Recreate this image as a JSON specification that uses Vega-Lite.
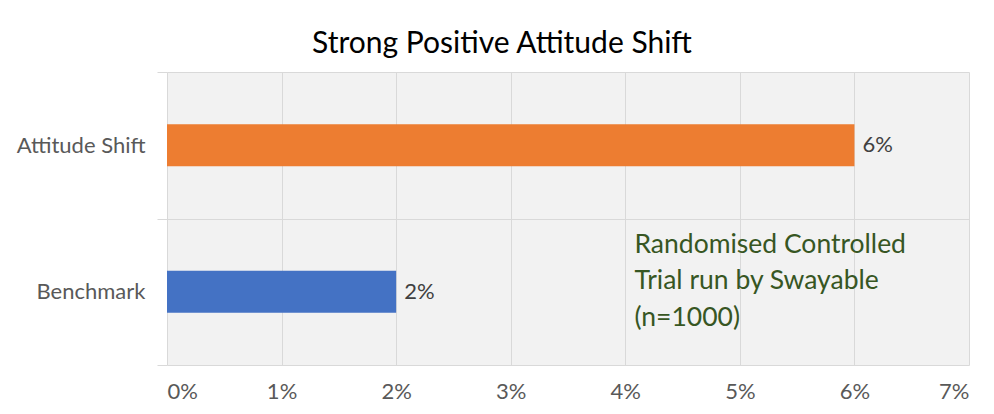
{
  "$schema": "https://vega.github.io/schema/vega-lite/v6.json",
  "autosize": {"type": "none"},
  "width": 802,
  "height": 293,
  "padding": {"left": 167, "top": 72, "right": 25, "bottom": 49},
  "background": "white",
  "title": {
    "text": "Strong Positive Attitude Shift",
    "font": "Lato",
    "fontSize": 30,
    "fontWeight": "normal",
    "color": "#000000",
    "anchor": "middle",
    "dx": -66,
    "offset": 2
  },
  "config": {
    "view": {"fill": "#f2f2f2", "stroke": null},
    "axis": {"labelFont": "Lato", "labelFontSize": 22, "labelColor": "#595959"}
  },
  "data": {
    "values": [
      {"category": "Attitude Shift", "value": 0.06, "label": "6%"},
      {"category": "Benchmark", "value": 0.02, "label": "2%"}
    ]
  },
  "encoding": {
    "y": {
      "field": "category",
      "type": "nominal",
      "sort": ["Attitude Shift", "Benchmark"],
      "title": null,
      "scale": {"paddingInner": 0, "paddingOuter": 0},
      "axis": {
        "tickBand": "extent",
        "grid": true,
        "gridColor": "#d9d9d9",
        "tickColor": "#d9d9d9",
        "tickSize": 10,
        "domain": false,
        "labelPadding": 12
      }
    },
    "x": {
      "field": "value",
      "type": "quantitative",
      "scale": {"domain": [0, 0.07], "nice": false},
      "title": null,
      "axis": {
        "values": [0, 0.01, 0.02, 0.03, 0.04, 0.05, 0.06, 0.07],
        "format": ".0%",
        "grid": true,
        "gridColor": "#d9d9d9",
        "ticks": false,
        "domain": false,
        "labelPadding": 16
      }
    }
  },
  "layer": [
    {
      "mark": {"type": "bar", "size": 42},
      "encoding": {
        "color": {
          "field": "category",
          "type": "nominal",
          "scale": {"domain": ["Attitude Shift", "Benchmark"], "range": ["#ED7D31", "#4472C4"]},
          "legend": null
        }
      }
    },
    {
      "mark": {"type": "text", "align": "left", "baseline": "middle", "dx": 8, "font": "Lato", "fontSize": 22, "color": "#404040"},
      "encoding": {"text": {"field": "label"}}
    },
    {
      "data": {"values": [{"category": "Benchmark", "value": 0.0408, "note": "Randomised Controlled|Trial run by Swayable|(n=1000)"}]},
      "mark": {"type": "text", "align": "left", "baseline": "middle", "lineBreak": "|", "lineHeight": 36.5, "dy": -47, "font": "Lato", "fontSize": 26.5, "color": "#375623"},
      "encoding": {"text": {"field": "note"}}
    }
  ]
}
